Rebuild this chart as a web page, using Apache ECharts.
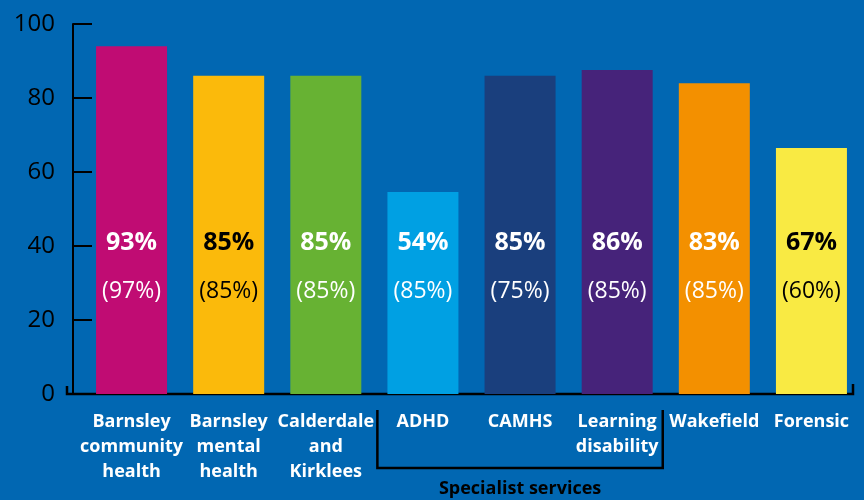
<!DOCTYPE html>
<html>
<head>
<meta charset="utf-8">
<style>
  html, body { margin: 0; padding: 0; background: #0167b2; }
  #chart { width: 864px; height: 500px; }
</style>
<script src="https://cdn.jsdelivr.net/npm/echarts@6.0.0/dist/echarts.min.js"></script>
</head>
<body>
<div id="chart"></div>
<script>
// categories along the x axis
const categories = [
  'Barnsley\ncommunity\nhealth',
  'Barnsley\nmental\nhealth',
  'Calderdale\nand\nKirklees',
  'ADHD',
  'CAMHS',
  'Learning\ndisability',
  'Wakefield',
  'Forensic'
]
// bar heights as drawn
const barValues = [94, 86, 86, 54.6, 86, 87.6, 84, 66.5]
// printed figures inside the bars
const scores = [93, 85, 85, 54, 85, 86, 83, 67]
const previous = [97, 85, 85, 85, 75, 85, 85, 60]
const yTicks = [0, 20, 40, 60, 80, 100]

const barColors = ['#c00c73', '#fbba0b', '#67b233', '#00a0e3', '#1a3f7d', '#46237a', '#f39000', '#f9ea43']
const textColors = ['#fff', '#000', '#fff', '#fff', '#fff', '#fff', '#fff', '#000']
const font = '"Open Sans", "Noto Sans", sans-serif'

const chart = echarts.init(document.getElementById('chart'))

chart.setOption({
  backgroundColor: '#0167b2',
  animation: false,
  grid: { left: 83, right: 4, top: 24, bottom: 106 },
  xAxis: {
    type: 'category',
    data: categories,
    axisLine: { show: false },
    axisTick: { show: false },
    axisLabel: {
      interval: 0,
      margin: 15,
      color: '#fff',
      fontFamily: font,
      fontWeight: 'bold',
      fontSize: 18,
      lineHeight: 25
    }
  },
  yAxis: {
    type: 'value',
    min: yTicks[0],
    max: yTicks[yTicks.length - 1],
    interval: 20,
    offset: 10,
    splitLine: { show: false },
    axisLine: { show: true, lineStyle: { color: '#000', width: 2 } },
    axisTick: { show: true, inside: true, length: 19, lineStyle: { color: '#000', width: 2 } },
    axisLabel: {
      margin: 18,
      color: '#000',
      fontFamily: font,
      fontSize: 24
    }
  },
  series: [{
    type: 'bar',
    barWidth: 71,
    data: barValues.map((v, i) => ({
      value: v,
      itemStyle: { color: barColors[i] },
      label: {
        color: textColors[i],
        rich: {
          a: { color: textColors[i], fontFamily: font, fontWeight: 'bold', fontSize: 25, lineHeight: 49 },
          b: { color: textColors[i], fontFamily: font, fontSize: 23, lineHeight: 49 }
        }
      }
    })),
    label: {
      show: true,
      position: 'insideBottom',
      distance: 78,
      formatter: p => '{a|' + scores[p.dataIndex] + '%}\n{b|(' + previous[p.dataIndex] + '%)}'
    }
  }]
})

// axis base line and the "Specialist services" bracket
const zeroY = chart.convertToPixel({ yAxisIndex: 0 }, 0)
const c3 = chart.convertToPixel({ xAxisIndex: 0 }, 3)
const c4 = chart.convertToPixel({ xAxisIndex: 0 }, 4)
const c5 = chart.convertToPixel({ xAxisIndex: 0 }, 5)
const band = c4 - c3
const bx1 = c3 - band / 2 + 3
const bx2 = c5 + band / 2 - 3

chart.setOption({
  graphic: [
    {
      type: 'polyline',
      shape: { points: [[67, zeroY - 8], [67, zeroY], [853, zeroY], [853, zeroY - 10]] },
      style: { stroke: '#000', lineWidth: 2.5, fill: null }
    },
    {
      type: 'polyline',
      shape: { points: [[bx1, zeroY + 16], [bx1, zeroY + 74], [bx2, zeroY + 74], [bx2, zeroY + 16]] },
      style: { stroke: '#000', lineWidth: 2.5, fill: null }
    },
    {
      type: 'text',
      x: (bx1 + bx2) / 2,
      y: zeroY + 95,
      style: {
        text: 'Specialist services',
        fill: '#000',
        font: 'bold 18px ' + font,
        align: 'center',
        verticalAlign: 'middle'
      }
    }
  ]
})
</script>
</body>
</html>
